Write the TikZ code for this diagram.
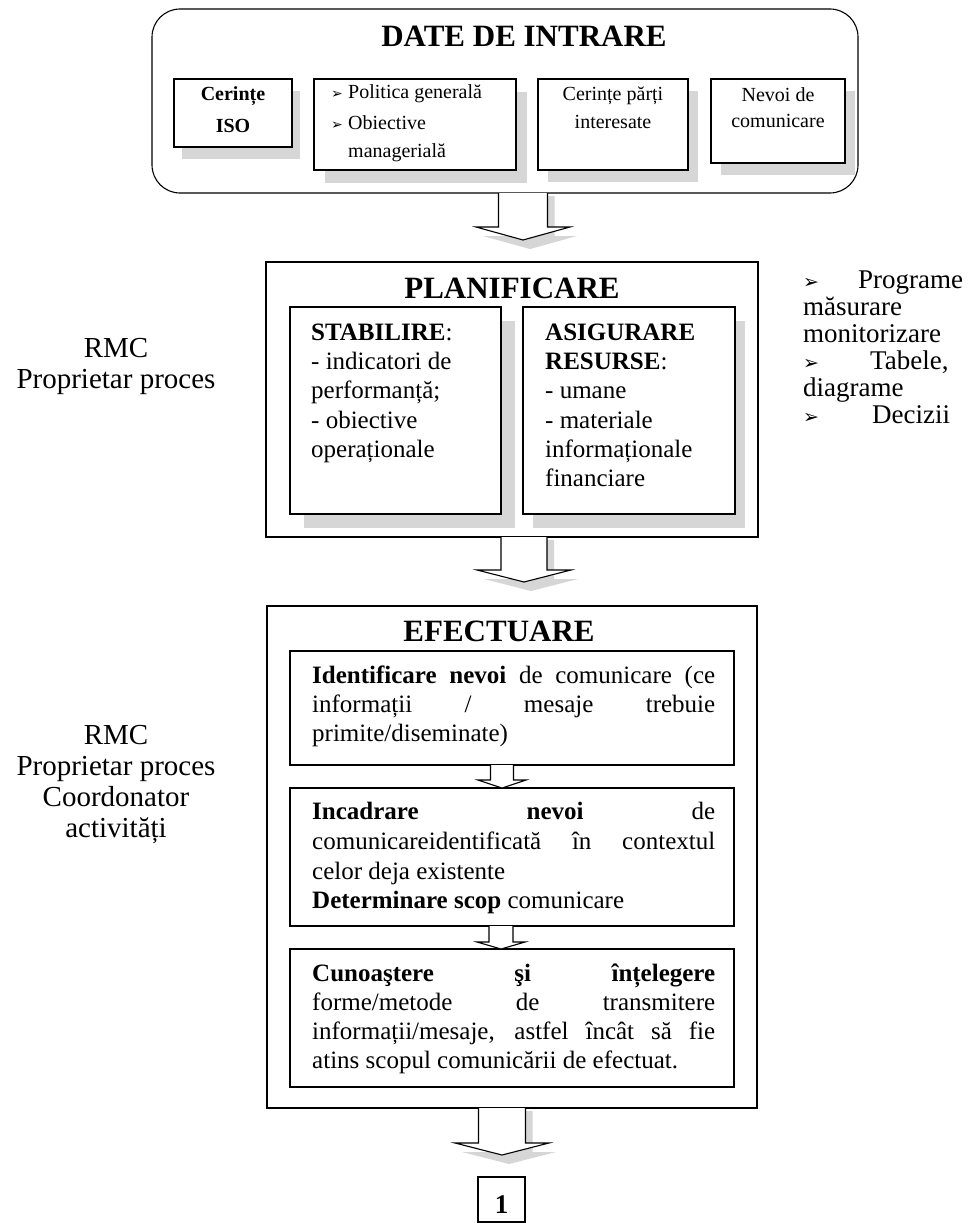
\documentclass[tikz,border=0pt]{standalone}
\usepackage{fontspec}
\setmainfont{Liberation Serif}
\newfontfamily\dejavu{DejaVu Sans}
\usetikzlibrary{calc,backgrounds}
\newcommand{\arrb}[1]{{\dejavu\fontsize{#1}{#1}\selectfont ➢}}
\newcommand{\blockarr}[5]{%
  \fill[white] ($(#1)+(-#3,0)$) -- ($(#1)+(-#3,#5)$) -- ($(#1)+(-#4,#5)$) -- (#2) -- ($(#1)+(#4,#5)$) -- ($(#1)+(#3,#5)$) -- ($(#1)+(#3,0)$) -- cycle;
  \draw[arrline] ($(#1)+(-#3,0)$) -- ($(#1)+(-#3,#5)$) -- ($(#1)+(-#4,#5)$) -- (#2) -- ($(#1)+(#4,#5)$) -- ($(#1)+(#3,#5)$) -- ($(#1)+(#3,0)$);
}
\newcommand{\blockshd}[5]{%
  \fill[shd] ($(#1)+(-#3+7,3)$) -- ($(#1)+(-#3+7,#5+9)$) -- ($(#1)+(-#4+7,#5+9)$) -- ($(#2)+(7,9)$) -- ($(#1)+(#4+7,#5+9)$) -- ($(#1)+(#3+7,#5+9)$) -- ($(#1)+(#3+7,3)$) -- cycle;
}
\tikzset{
  obox/.style={draw, line width=1.1pt, inner sep=0pt, outer sep=0pt},
  ibox/.style={draw, fill=white, line width=1.1pt, inner sep=0pt, outer sep=0pt},
  shd/.style={fill=gray!32},
  arrline/.style={line width=1.1pt, line join=miter},
  ttl/.style={inner sep=0pt, anchor=base, font=\fontsize{31}{36}\selectfont\bfseries},
  sm/.style={inner sep=0pt, anchor=base, font=\fontsize{20}{24}\selectfont},
  smw/.style={inner sep=0pt, anchor=base west, font=\fontsize{20}{24}\selectfont},
  bd/.style={inner sep=0pt, anchor=base west, font=\fontsize{25}{29}\selectfont},
  side/.style={inner sep=0pt, anchor=base, font=\fontsize{29}{31}\selectfont},
  sidew/.style={inner sep=0pt, anchor=base west, font=\fontsize{27}{28}\selectfont}
}
\begin{document}
\begin{tikzpicture}[x=1pt,y=-1pt]
\useasboundingbox (0,0) rectangle (973,1223);
\begin{scope}[on background layer]
  \fill[white] (0,0) rectangle (973,1223);
\end{scope}

% ---------- DATE DE INTRARE ----------
\node[obox, rounded corners=28pt, minimum width=706pt, minimum height=184pt] (top) at (505,101) {};
\node[ttl] (ttop) at (524,47) {DATE DE INTRARE};
\node[ibox, minimum width=118pt, minimum height=68pt] (iso) at (233,113) {};
\node[ibox, minimum width=202pt, minimum height=91pt] (pol) at (415,124.5) {};
\node[ibox, minimum width=150pt, minimum height=91pt] (par) at (613,124.5) {};
\node[ibox, minimum width=134pt, minimum height=84pt] (nev) at (778,121) {};

\node[sm, font=\fontsize{20}{24}\selectfont\bfseries] (iso1) at (233,100) {Cerințe};
\node[sm, font=\fontsize{20}{24}\selectfont\bfseries] (iso2) at (233,132) {ISO};
\node[smw] (polb1) at (331,99) {\arrb{14}};
\node[smw] (pol1) at (348,99) {Politica generală};
\node[smw] (polb2) at (331,129) {\arrb{14}};
\node[smw] (pol2) at (348,129) {Obiective};
\node[smw] (pol3) at (348,157) {managerială};
\node[sm] (par1) at (613,100) {Cerințe părți};
\node[sm] (par2) at (613,128) {interesate};
\node[sm] (nev1) at (778,101) {Nevoi de};
\node[sm] (nev2) at (778,127) {comunicare};

% ---------- PLANIFICARE ----------
\node[obox, minimum width=492pt, minimum height=275pt] (plan) at (512,399.5) {};
\node[ttl] (tplan) at (512,298) {PLANIFICARE};
\node[ibox, minimum width=211pt, minimum height=207pt] (stab) at (395.5,410.5) {};
\node[ibox, minimum width=212pt, minimum height=207pt] (asig) at (629,410.5) {};

\node[bd] (s1) at (311,340) {\textbf{STABILIRE}:};
\node[bd] (s2) at (311,369) {- indicatori de};
\node[bd] (s3) at (311,398) {performanță;};
\node[bd] (s4) at (311,428) {- obiective};
\node[bd] (s5) at (311,457) {operaționale};

\node[bd] (r1) at (545,340) {\textbf{ASIGURARE}};
\node[bd] (r2) at (545,369) {\textbf{RESURSE}:};
\node[bd] (r3) at (545,398) {- umane};
\node[bd] (r4) at (545,428) {- materiale};
\node[bd] (r5) at (545,457) {informaționale};
\node[bd] (r6) at (545,486) {financiare};

% side labels
\node[side] (l1) at (116,357) {RMC};
\node[side] (l2) at (116,388) {Proprietar proces};

\node[sidew] (rb1) at (803,288) {\arrb{19}};
\node[sidew] (rt1) at (858,288) {Programe};
\node[sidew] (rt2) at (803,315) {măsurare};
\node[sidew] (rt3) at (803,342) {monitorizare};
\node[sidew] (rb2) at (803,369) {\arrb{19}};
\node[sidew] (rt4) at (870,369) {Tabele,};
\node[sidew] (rt5) at (803,396) {diagrame};
\node[sidew] (rb3) at (803,423) {\arrb{19}};
\node[sidew] (rt6) at (872,423) {Decizii};

% ---------- EFECTUARE ----------
\node[obox, minimum width=490pt, minimum height=502pt] (efec) at (512,857) {};
\node[ttl] (tefec) at (499,641) {EFECTUARE};
\node[ibox, minimum width=444pt, minimum height=114pt] (e1) at (512,708) {};
\node[ibox, minimum width=444pt, minimum height=138pt] (e2) at (512,857) {};
\node[ibox, minimum width=444pt, minimum height=138pt] (e3) at (512,1018) {};

\node[bd] (e1a) at (312,683) {\makebox[403pt][s]{\textbf{Identificare nevoi} de comunicare (ce}};
\node[bd] (e1b) at (312,712) {\makebox[403pt][s]{informații / mesaje trebuie}};
\node[bd] (e1c) at (312,741) {primite/diseminate)};

\node[bd] (e2a) at (312,819) {\makebox[403pt][s]{\textbf{Incadrare} \textbf{nevoi} de}};
\node[bd] (e2b) at (312,849) {\makebox[403pt][s]{comunicareidentificată în contextul}};
\node[bd] (e2c) at (312,879) {celor deja existente};
\node[bd] (e2d) at (312,908) {\textbf{Determinare scop} comunicare};

\node[bd] (e3a) at (312,981) {\makebox[403pt][s]{\textbf{Cunoaştere} \textbf{şi} \textbf{înțelegere}}};
\node[bd] (e3b) at (312,1010) {\makebox[403pt][s]{forme/metode de transmitere}};
\node[bd] (e3c) at (312,1039) {\makebox[403pt][s]{informații/mesaje, astfel încât să fie}};
\node[bd] (e3d) at (312,1068) {atins scopul comunicării de efectuat.};

\node[side] (m1) at (116,744) {RMC};
\node[side] (m2) at (116,775) {Proprietar proces};
\node[side] (m3) at (116,806) {Coordonator};
\node[side] (m4) at (116,837) {activități};

% ---------- final box ----------
\node[ibox, minimum width=47pt, minimum height=45pt] (one) at (501.5,1199.5) {};
\node[inner sep=0pt, anchor=base, font=\fontsize{27}{30}\selectfont\bfseries] (onet) at (501.5,1213) {1};

% ---------- shadows of boxes ----------
\begin{scope}[on background layer]
  \foreach \b/\dx/\dy in {iso/8/12, pol/11/13, par/10/12, nev/10/12, stab/14/14, asig/10/14}
    \fill[shd] ($(\b.north west)+(\dx,\dy)$) rectangle ($(\b.south east)+(\dx,\dy)$);
\end{scope}

% ---------- block arrows ----------
\coordinate (a1s) at (523,193);  \coordinate (a1t) at (523,240);
\coordinate (a2s) at (524,537);  \coordinate (a2t) at (524,582);
\coordinate (a3s) at (502,765);  \coordinate (a3t) at (502,788);
\coordinate (a4s) at (501,926);  \coordinate (a4t) at (501,949);
\coordinate (a5s) at (502,1108); \coordinate (a5t) at (502,1155);

\blockshd{a1s}{a1t}{24.5}{47}{34}
\blockarr{a1s}{a1t}{24.5}{47}{34}
\blockshd{a2s}{a2t}{23}{47}{33}
\blockarr{a2s}{a2t}{23}{47}{33}
\blockarr{a3s}{a3t}{11.5}{24}{15}
\blockarr{a4s}{a4t}{12}{24}{16}
\blockshd{a5s}{a5t}{23.5}{47}{35}
\blockarr{a5s}{a5t}{23.5}{47}{35}
\end{tikzpicture}
\end{document}
